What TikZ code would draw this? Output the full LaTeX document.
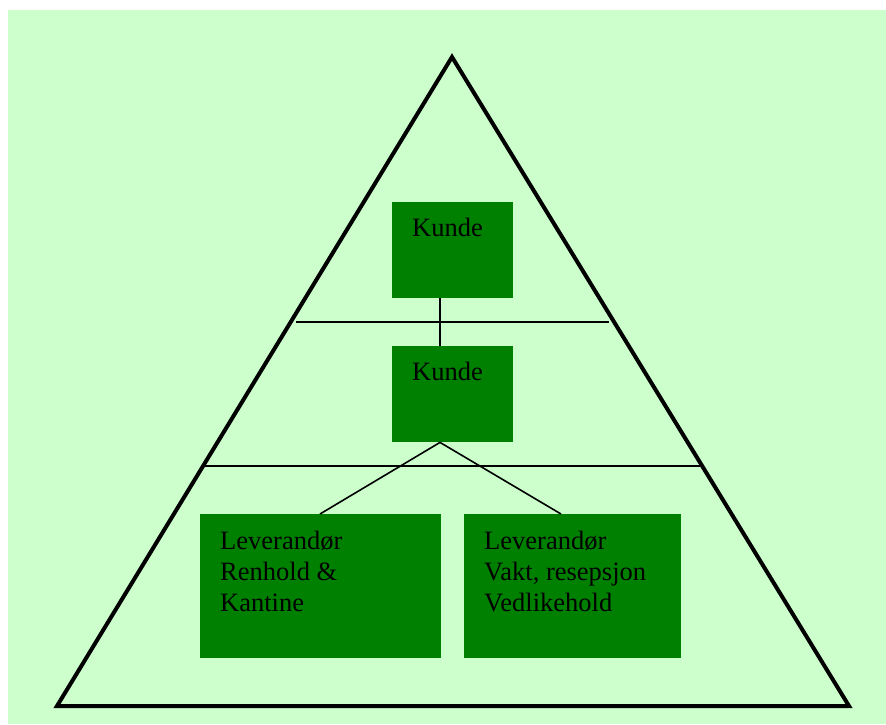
\documentclass[tikz,border=0pt]{standalone}
\usepackage{fontspec}
\setmainfont{Liberation Serif}
\begin{document}
\begin{tikzpicture}[x=1pt,y=-1pt,
  box/.style={fill=boxgreen,draw=none,minimum width=#1,inner sep=0pt},
  lbl/.style={anchor=base west,inner sep=0pt,align=left,text=black,
    font=\fontsize{26.5}{31}\selectfont},
  link/.style={line width=1.6pt,black},
  tier/.style={line width=2pt,black}]
\definecolor{boxgreen}{RGB}{0,128,0}
\definecolor{bgreen}{RGB}{204,255,204}
\useasboundingbox (0,0) rectangle (886,724);
\fill[bgreen] (8,10) rectangle (886,724);
% pyramid outline
\draw[line width=4pt,line join=miter] (452,57) -- (57,706) -- (849,706) -- cycle;
% tier separators
\draw[tier] (296,322) -- (609,322);
\draw[tier] (205,466) -- (700,466);
% boxes
\node[box=121pt,minimum height=96pt,anchor=north west] (k1) at (392,202) {};
\node[box=121pt,minimum height=96pt,anchor=north west] (k2) at (392,346) {};
\node[box=241pt,minimum height=144pt,anchor=north west] (l1) at (200,514) {};
\node[box=217pt,minimum height=144pt,anchor=north west] (l2) at (464,514) {};
% labels (base anchor of a multi-line label is its last line)
\node[lbl] (t1) at (412,236) {Kunde};
\node[lbl] (t2) at (412,380) {Kunde};
\node[lbl] (t3) at (220,611) {Leverandør\\Renhold \&\\Kantine};
\node[lbl] (t4) at (484,611) {Leverandør\\Vakt, resepsjon\\Vedlikehold};
% connectors
\draw[link] (k1.south west) ++(48,0) coordinate (a) -- (a |- k2.north);
\draw[link] (k2.south west) ++(48,0) coordinate (b) -- (l1.north west -| 320,0);
\draw[link] (b) -- (l2.north west -| 561,0);
\end{tikzpicture}
\end{document}
